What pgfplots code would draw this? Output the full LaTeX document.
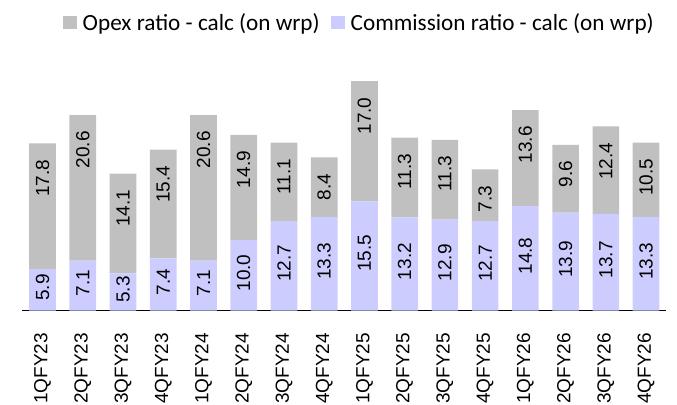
\documentclass[border=0pt]{standalone}
\usepackage{pgfplots}
\pgfplotsset{compat=1.18}
\usepackage{pgfplotstable}
\usepackage{fontspec}
\setmainfont{Liberation Sans}
\newfontfamily\carlito{Carlito}
\definecolor{opexc}{RGB}{192,192,192}
\definecolor{commc}{RGB}{204,204,255}
\pgfplotstableread{
x comm opex
0 5.9 17.8
1 7.1 20.6
2 5.3 14.1
3 7.4 15.4
4 7.1 20.6
5 10.0 14.9
6 12.7 11.1
7 13.3 8.4
8 15.5 17.0
9 13.2 11.3
10 12.9 11.3
11 12.7 7.3
12 14.8 13.6
13 13.9 9.6
14 13.7 12.4
15 13.3 10.5
}\data
% label positions (centre of commission label, top end of opex label)
\pgfplotstableread{
x cy clab oy olab
0 3.30 5.9 21.43 17.8
1 3.90 7.1 25.43 20.6
2 3.00 5.3 17.13 14.1
3 4.05 7.4 20.53 15.4
4 3.90 7.1 25.43 20.6
5 5.35 10.0 22.63 14.9
6 6.70 12.7 21.53 11.1
7 7.00 13.3 19.43 8.4
8 8.10 15.5 30.23 17.0
9 6.95 13.2 22.23 11.3
10 6.80 12.9 21.93 11.3
11 6.70 12.7 17.73 7.3
12 7.75 14.8 26.13 13.6
13 7.30 13.9 21.23 9.6
14 7.20 13.7 23.83 12.4
15 7.00 13.3 21.53 10.5
}\labels
\begin{document}
\begin{tikzpicture}
\useasboundingbox (0,0) rectangle (677bp,405bp);
\pgfplotsset{
  geom/.style={
    at={(22.4bp,94.3bp)}, anchor=south west,
    scale only axis,
    width=643.8bp, height=233bp,
    xmin=-0.5, xmax=15.5, ymin=0, ymax=33,
  }
}
\begin{axis}[
  geom,
  ybar stacked, bar width=26.7bp,
  hide y axis,
  axis x line*=bottom,
  x axis line style={black, line width=1.3bp},
  major tick length=0pt,
  xtick={0,...,15},
  xticklabels={1QFY23,2QFY23,3QFY23,4QFY23,1QFY24,2QFY24,3QFY24,4QFY24,1QFY25,2QFY25,3QFY25,4QFY25,1QFY26,2QFY26,3QFY26,4QFY26},
  xticklabel style={yshift=-22bp, rotate=90, anchor=east, inner sep=0pt, font=\fontsize{19bp}{19bp}\selectfont},
  reverse legend,
  legend columns=2,
  legend style={draw=none, fill=none, at={(0.5,1)}, anchor=center, yshift=55bp, xshift=14bp,
    font=\carlito\fontsize{23.2bp}{23.2bp}\selectfont,
    nodes={inner sep=0pt},
    /tikz/every odd column/.append style={column sep=6bp},
    /tikz/every even column/.append style={column sep=11bp}},
  legend image code/.code={\fill[#1] (0bp,-6.5bp) rectangle (14bp,6.5bp);},
]
\addplot[fill=commc, draw=none] table[x=x, y=comm] {\data};
\addlegendentry{Commission ratio - calc (on wrp)}
\addplot[fill=opexc, draw=none] table[x=x, y=opex] {\data};
\addlegendentry{Opex ratio - calc (on wrp)}
\end{axis}
\begin{axis}[geom, hide axis, clip=false]
\addplot[draw=none, mark=none, nodes near coords, point meta=explicit symbolic,
  every node near coord/.append style={rotate=90, anchor=center, inner sep=0pt, font=\fontsize{19bp}{19bp}\selectfont, text=black}]
  table[x=x, y=cy, meta=clab] {\labels};
\addplot[draw=none, mark=none, nodes near coords, point meta=explicit symbolic,
  every node near coord/.append style={rotate=90, anchor=east, inner sep=0pt, font=\fontsize{19bp}{19bp}\selectfont, text=black}]
  table[x=x, y=oy, meta=olab] {\labels};
\end{axis}
\end{tikzpicture}
\end{document}
